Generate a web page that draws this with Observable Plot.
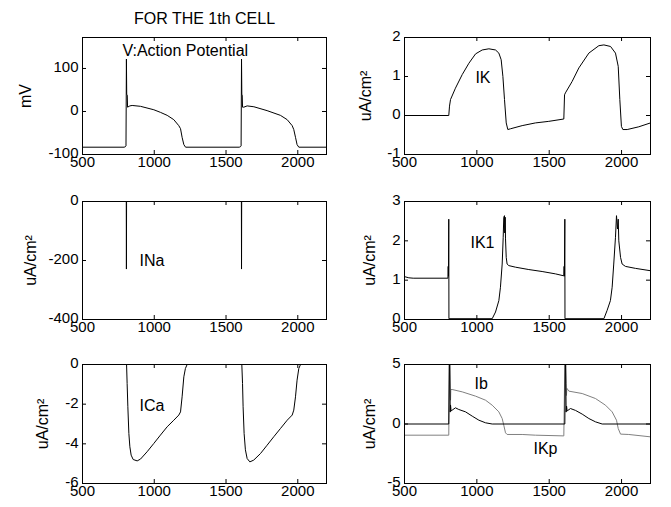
<!DOCTYPE html>
<html><head><meta charset="utf-8">
<script src="https://cdn.jsdelivr.net/npm/d3@7"></script>
<script src="https://cdn.jsdelivr.net/npm/@observablehq/plot@0.6"></script>
<style>
body{margin:0;background:#fff}
#fig{position:relative;width:671px;height:507px;background:#fff;overflow:hidden}
.p{position:absolute}
</style>
</head><body><div id="fig"></div>
<script>
const title = "FOR THE 1th CELL";
const xTicks = [500, 1000, 1500, 2000];

// [time (ms), value]
const vTrace = [[500,-83],[790,-83],[798,-82],[803,-80],[806,122],[808,40],[812,38],[814,10],[830,13],[846,14],[904,12],[997,4],[1043,-2],[1090,-9],[1136,-19],[1171,-33],[1183,-40],[1194,-60],[1206,-77],[1218,-83],[1592,-83],[1600,-82],[1605,-80],[1608,122],[1610,40],[1613,38],[1615,10],[1624,10],[1647,13],[1694,11],[1786,2],[1879,-9],[1926,-19],[1961,-33],[1972,-42],[1984,-60],[1995,-77],[2007,-83],[2200,-83]];
const ikTrace = [[500,0],[806,0],[811,0.24],[818,0.41],[852,0.70],[899,1.05],[945,1.34],[991,1.58],[1037,1.68],[1083,1.71],[1129,1.68],[1152,1.60],[1168,1.43],[1180,1.0],[1191,0.41],[1203,-0.19],[1214,-0.36],[1233,-0.34],[1313,-0.26],[1405,-0.19],[1497,-0.15],[1601,-0.09],[1606,0.53],[1612,0.58],[1658,0.87],[1705,1.22],[1774,1.6],[1843,1.79],[1878,1.81],[1924,1.77],[1958,1.6],[1977,1.26],[1988,0.41],[1999,-0.28],[2009,-0.36],[2039,-0.36],[2119,-0.29],[2200,-0.19]];
const inaTrace = [[500,0],[805,0],[806,-229],[807,0],[1607,0],[1608,-229],[1609,0],[2200,0]];
const ik1Trace = [[500,1.09],[530,1.06],[560,1.05],[800,1.05],[802,1.35],[804,1.1],[806,2.55],[807,0.02],[1106,0.02],[1129,0.19],[1152,0.48],[1163,0.82],[1175,1.41],[1182,2.09],[1186,2.6],[1191,2.64],[1193,2.2],[1196,2.6],[1198,2.05],[1203,1.58],[1209,1.41],[1221,1.37],[1267,1.33],[1359,1.27],[1451,1.22],[1543,1.16],[1601,1.11],[1603,1.35],[1605,1.1],[1608,2.55],[1609,0.02],[1878,0.02],[1900,0.23],[1923,0.48],[1935,0.82],[1946,1.41],[1958,2.09],[1965,2.64],[1972,2.3],[1977,2.55],[1981,2.0],[1993,1.58],[2004,1.41],[2027,1.35],[2096,1.3],[2200,1.24]];
const icaTrace = [[500,0],[807,0],[811,-0.96],[816,-2.13],[823,-3.48],[830,-4.15],[839,-4.57],[853,-4.79],[881,-4.86],[904,-4.77],[950,-4.4],[997,-3.98],[1043,-3.56],[1090,-3.14],[1136,-2.81],[1171,-2.55],[1183,-2.39],[1194,-1.63],[1206,-0.62],[1217,-0.2],[1229,0],[1610,0],[1615,-0.96],[1619,-2.13],[1626,-3.48],[1635,-4.3],[1647,-4.74],[1666,-4.91],[1693,-4.82],[1740,-4.49],[1786,-4.07],[1833,-3.64],[1879,-3.23],[1926,-2.81],[1961,-2.55],[1972,-2.3],[1984,-1.63],[1995,-0.79],[2007,-0.2],[2019,0],[2200,0]];
const ibTrace = [[500,-0.94],[806,-0.94],[811,7],[816,2.84],[818,2.0],[820,2.9],[829,2.9],[899,2.7],[991,2.34],[1060,2.0],[1106,1.58],[1152,1.02],[1175,0.46],[1186,-0.1],[1198,-0.74],[1209,-0.88],[1313,-0.88],[1405,-0.94],[1601,-1.0],[1610,7],[1617,3.4],[1619,2.4],[1622,3.0],[1636,2.76],[1728,2.56],[1820,2.14],[1889,1.58],[1935,1.02],[1965,0.32],[1977,-0.38],[1993,-0.85],[2050,-0.88],[2200,-1.08]];
const ikpTrace = [[500,0],[806,0],[811,7],[816,1.0],[818,1.6],[822,1.1],[829,1.16],[852,1.36],[875,1.22],[922,1.02],[968,0.66],[1014,0.32],[1060,0.1],[1106,0],[1608,0],[1612,7],[1617,1.0],[1620,1.5],[1624,1.1],[1647,1.3],[1682,1.14],[1728,0.83],[1774,0.46],[1820,0.18],[1866,0],[2200,0]];

const yDomains = {V:[-100,172], IK:[-1,2], INa:[-400,0], IK1:[0,3], ICa:[-6,0], IbKp:[-5,5]};
const yTicks = {V:[-100,0,100], IK:[-1,0,1,2], INa:[-400,-200,0], IK1:[0,1,2,3], ICa:[-6,-4,-2,0], IbKp:[-5,0,5]};
const yLabels = {V:"mV", IK:"uA/cm²", INa:"uA/cm²", IK1:"uA/cm²", ICa:"uA/cm²", IbKp:"uA/cm²"};
const notes = {
  V:[{x:778, y:142, t:"V:Action Potential"}],
  IK:[{x:990, y:0.97, t:"IK"}],
  INa:[{x:897, y:-200, t:"INa"}],
  IK1:[{x:956, y:1.96, t:"IK1"}],
  ICa:[{x:897, y:-2.07, t:"ICa"}],
  IbKp:[{x:984, y:3.4, t:"Ib"},{x:1391, y:-2.1, t:"IKp"}]
};

const cols = [{left:0, width:335, ml:82, mr:9}, {left:335, width:336, ml:69, mr:21}];
const rows = [{top:0, height:170, mt:37, mb:16}, {top:170, height:170, mt:31, mb:21}, {top:340, height:167, mt:24, mb:24}];

const panels = [
  {key:"V", c:0, r:0, series:[{d:vTrace, s:"black"}], ldx:-57, title:true},
  {key:"IK", c:1, r:0, series:[{d:ikTrace, s:"black"}], ldx:-39},
  {key:"INa", c:0, r:1, series:[{d:inaTrace, s:"black"}], ldx:-52},
  {key:"IK1", c:1, r:1, series:[{d:ik1Trace, s:"black"}], ldx:-35},
  {key:"ICa", c:0, r:2, series:[{d:icaTrace, s:"black"}], ldx:-40},
  {key:"IbKp", c:1, r:2, series:[{d:ibTrace, s:"#808080"},{d:ikpTrace, s:"black"}], ldx:-35}
];

const fmt = d => String(d);
const fig = document.getElementById("fig");
for (const p of panels) {
  const c = cols[p.c], r = rows[p.r];
  const iw = c.width - c.ml - c.mr, ih = r.height - r.mt - r.mb;
  const yt = yTicks[p.key];
  const marks = [
    ...p.series.map(s => Plot.line(s.d, {x: d => d[0], y: d => d[1], stroke: s.s, strokeWidth: 1, clip: true})),
    Plot.frame({stroke: "black", strokeWidth: 1}),
    Plot.tickX(xTicks, {x: d => d, insetTop: ih - 4, stroke: "black"}),
    Plot.tickX(xTicks, {x: d => d, insetBottom: ih - 4, stroke: "black"}),
    Plot.tickY(yt, {y: d => d, insetRight: iw - 4, stroke: "black"}),
    Plot.tickY(yt, {y: d => d, insetLeft: iw - 4, stroke: "black"}),
    Plot.axisX(xTicks, {tickSize: 0, tickPadding: 2, label: null, fontSize: 15, tickFormat: fmt}),
    Plot.axisY(yt, {tickSize: 0, tickPadding: 4, dy: -1, label: null, fontSize: 15, tickFormat: fmt}),
    Plot.text([yLabels[p.key]], {frameAnchor: "left", dx: p.ldx, rotate: -90, textAnchor: "middle", lineAnchor: "middle", fontSize: 16}),
    Plot.text(notes[p.key], {x: "x", y: "y", text: "t", textAnchor: "start", lineAnchor: "middle", fontSize: 16})
  ];
  if (p.title) marks.push(Plot.text([title], {frameAnchor: "top", dy: -19, lineAnchor: "middle", fontSize: 16}));
  const chart = Plot.plot({
    width: c.width, height: r.height,
    marginLeft: c.ml, marginRight: c.mr, marginTop: r.mt, marginBottom: r.mb,
    x: {domain: [500, 2200], label: null},
    y: {domain: yDomains[p.key], label: null},
    style: {background: "transparent", overflow: "visible", fontFamily: "'Liberation Sans', Arial, sans-serif", fontSize: "15px", color: "black"},
    marks
  });
  const div = document.createElement("div");
  div.className = "p";
  div.style.left = c.left + "px";
  div.style.top = r.top + "px";
  div.appendChild(chart);
  fig.appendChild(div);
}
</script>
</body></html>
